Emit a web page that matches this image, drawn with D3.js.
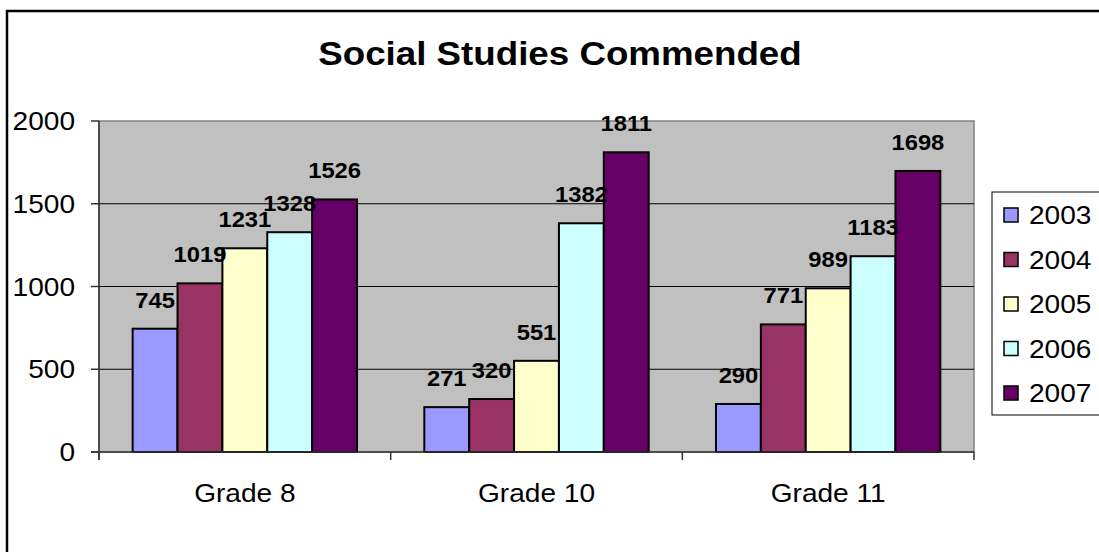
<!DOCTYPE html>
<html><head><meta charset="utf-8">
<script src="https://cdn.jsdelivr.net/npm/d3@7"></script>
<style>html,body{margin:0;padding:0;background:#fff;overflow:hidden}</style>
</head><body>
<script>
const categories = ["Grade 8", "Grade 10", "Grade 11"];
const seriesNames = ["2003", "2004", "2005", "2006", "2007"];
const v2003 = [745, 271, 290];
const v2004 = [1019, 320, 771];
const v2005 = [1231, 551, 989];
const v2006 = [1328, 1382, 1183];
const v2007 = [1526, 1811, 1698];
const seriesValues = [v2003, v2004, v2005, v2006, v2007];
const colors = ["#9999FF", "#993366", "#FFFFCC", "#CCFFFF", "#660066"];
const yTicks = [0, 500, 1000, 1500, 2000];
const title = "Social Studies Commended";

const W = 1099, H = 552;
const FONT = "'Liberation Sans', Arial, sans-serif";
const SX = 1.08;
const svg = d3.select("body").append("svg").attr("width", W).attr("height", H);

// outer border
svg.append("rect").attr("x", 7).attr("y", 11).attr("width", W + 20).attr("height", H + 20)
  .attr("fill", "#fff").attr("stroke", "#000").attr("stroke-width", 2.5);

const pl = 99, pr = 974, pt = 121, pb = 452;
const x = d3.scaleBand().domain(categories).range([pl, pr]).paddingInner(0).paddingOuter(0);
const y = d3.scaleLinear().domain([0, 2000]).range([pb, pt]);

function txt(g, xx, yy, s, size, weight, anchor) {
  return g.append("text").attr("transform", `translate(${xx},${yy}) scale(${SX},1)`)
    .attr("font-family", FONT).attr("font-size", size).attr("font-weight", weight)
    .attr("text-anchor", anchor).attr("fill", "#000").text(s);
}

// plot area
svg.append("rect").attr("x", pl).attr("y", pt).attr("width", pr - pl).attr("height", pb - pt)
  .attr("fill", "#C0C0C0").attr("stroke", "#808080").attr("stroke-width", 1.5);

// gridlines
svg.append("g").selectAll("line").data(yTicks.filter(d => d > 0 && d < 2000)).join("line")
  .attr("x1", pl).attr("x2", pr).attr("y1", d => y(d)).attr("y2", d => y(d))
  .attr("stroke", "#000").attr("stroke-width", 1);

// bars
const bw = x.bandwidth() / 6.5;
const xs = d3.scaleBand().domain(seriesNames).range([0.75 * bw, 5.75 * bw]);
const barsG = svg.append("g");
seriesNames.forEach((s, si) => {
  categories.forEach((c, ci) => {
    const v = seriesValues[si][ci];
    barsG.append("rect")
      .attr("x", x(c) + xs(s)).attr("y", y(v))
      .attr("width", xs.bandwidth()).attr("height", y(0) - y(v))
      .attr("fill", colors[si]).attr("stroke", "#000").attr("stroke-width", 2);
  });
});
// labels
const labG = svg.append("g");
seriesNames.forEach((s, si) => {
  categories.forEach((c, ci) => {
    const v = seriesValues[si][ci];
    txt(labG, x(c) + xs(s) + xs.bandwidth() / 2, y(v) - 21, String(v), 22, "bold", "middle");
  });
});

// axes
const axG = svg.append("g");
axG.append("line").attr("x1", pl).attr("x2", pl).attr("y1", pt).attr("y2", pb + 8)
  .attr("stroke", "#333").attr("stroke-width", 1.5);
axG.append("line").attr("x1", pl - 8).attr("x2", pr).attr("y1", pb).attr("y2", pb)
  .attr("stroke", "#333").attr("stroke-width", 1.5);
yTicks.forEach(t => {
  axG.append("line").attr("x1", pl - 8).attr("x2", pl).attr("y1", y(t)).attr("y2", y(t))
    .attr("stroke", "#333").attr("stroke-width", 1.5);
  txt(axG, 75, y(t) + 9, String(t), 26, "normal", "end");
});
const bounds = categories.map(c => x(c)).concat([x(categories[categories.length - 1]) + x.bandwidth()]);
bounds.forEach(b => {
  axG.append("line").attr("x1", b).attr("x2", b).attr("y1", pb).attr("y2", pb + 8)
    .attr("stroke", "#333").attr("stroke-width", 1.5);
});
categories.forEach(c => txt(axG, x(c) + x.bandwidth() / 2, 502, c, 26, "normal", "middle"));

// title
txt(svg, 560, 65, title, 34, "bold", "middle");

// legend
const lg = svg.append("g");
lg.append("rect").attr("x", 992).attr("y", 192).attr("width", 120).attr("height", 223)
  .attr("fill", "#fff").attr("stroke", "#000").attr("stroke-width", 1);
seriesNames.forEach((s, i) => {
  const cy = 215 + i * 44.5;
  lg.append("rect").attr("x", 1004).attr("y", cy - 7).attr("width", 14).attr("height", 14)
    .attr("fill", colors[i]).attr("stroke", "#000").attr("stroke-width", 1.5);
  txt(lg, 1029, cy + 9, s, 26, "normal", "start");
});
</script>
</body></html>
